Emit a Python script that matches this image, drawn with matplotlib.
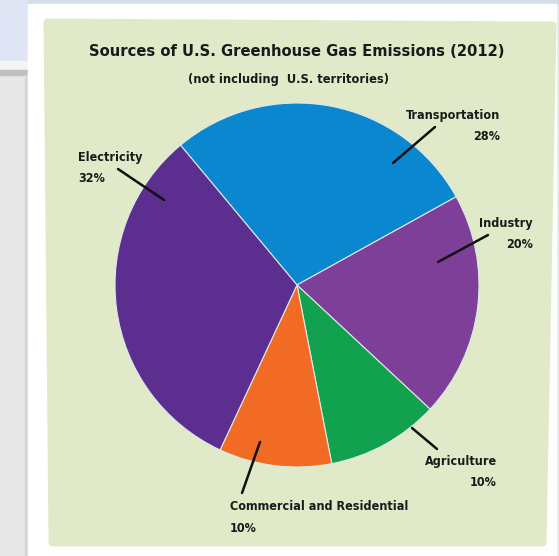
import matplotlib.pyplot as plt
from matplotlib.patches import Rectangle, Polygon

# data
labels = ["Transportation", "Industry", "Agriculture", "Commercial and Residential", "Electricity"]
shares = [28, 20, 10, 10, 32]
colors = ["#0b87cf", "#7d3f98", "#12a24f", "#f26b25", "#5b2e8f"]

W, H = 559, 556

fig = plt.figure(figsize=(W / 100, H / 100), dpi=100)
ax = fig.add_axes([0, 0, 1, 1])

font = ["DejaVu Sans"]
stretch = "condensed"


def py(y):
    # pixel y (from top) -> data y
    return H - y


# screenshot surroundings
ax.add_patch(Rectangle((0, 0), W, H, color="#e8e8e9", zorder=0))
ax.add_patch(Rectangle((0, py(61)), 30, 61, color="#dfe5f4", zorder=0))
ax.add_patch(Rectangle((0, py(70)), 30, 9, color="#f4f4f5", zorder=0))
ax.add_patch(Rectangle((0, py(75)), 30, 5, color="#bfc0c3", zorder=0))
ax.add_patch(Rectangle((25, 0), 3, py(75), color="#d6d6d8", zorder=0))
ax.add_patch(Rectangle((28, py(4)), W - 28, 4, color="#d6dde7", zorder=0))
ax.add_patch(Rectangle((28, 0), 528, py(4), color="white", zorder=1))

# green panel
ax.add_patch(Polygon([(47, py(22)), (553, py(25)), (543, py(543)), (52, py(543))],
                     closed=True, facecolor="#e0eac8", edgecolor="#e0eac8",
                     linewidth=5, joinstyle="round", zorder=2))

# pie
cx, cy, r = 297, py(285), 182
wedges, _ = ax.pie(shares, colors=colors, startangle=129.8, counterclock=False,
                   center=(cx, cy), radius=r, frame=True,
                   wedgeprops=dict(edgecolor="#dfe8e8", linewidth=0.8))
for w in wedges:
    w.set_zorder(3)
ax.set_xlim(0, W)
ax.set_ylim(0, H)
ax.axis("off")

# titles
ax.text(297, py(52), "Sources of U.S. Greenhouse Gas Emissions (2012)", ha="center", va="center",
        fontsize=11.8, fontweight="bold", family=font, fontstretch=stretch, color="#1a1a1a", zorder=5)
ax.text(289, py(80), "(not including  U.S. territories)", ha="center", va="center",
        fontsize=9.2, fontweight="bold", family=font, fontstretch=stretch, color="#1a1a1a", zorder=5)

# labels: (name, pct, x, y, align, line start, line end)
label_pos = [
    ("Transportation", "28%", 500, 115, "right", (435, 127), (393, 163)),
    ("Industry", "20%", 533, 223, "right", (488, 235), (438, 262)),
    ("Agriculture", "10%", 497, 461, "right", (437, 449), (412, 428)),
    ("Commercial and Residential", "10%", 230, 507, "left", (242, 493), (260, 442)),
    ("Electricity", "32%", 78, 157, "left", (118, 169), (164, 200)),
]
for (name, pct, x, y, ha, p0, p1), s in zip(label_pos, shares):
    ax.text(x, py(y), name, ha=ha, va="center", fontsize=9, fontweight="bold",
            family=font, fontstretch=stretch, color="#1a1a1a", zorder=5)
    ax.text(x, py(y + 22), pct, ha=ha, va="center", fontsize=9, fontweight="bold",
            family=font, fontstretch=stretch, color="#1a1a1a", zorder=5)
    ax.plot([p0[0], p1[0]], [py(p0[1]), py(p1[1])], color="#111111", lw=1.8,
            solid_capstyle="round", zorder=6)

fig.savefig("out.png", dpi=100)
